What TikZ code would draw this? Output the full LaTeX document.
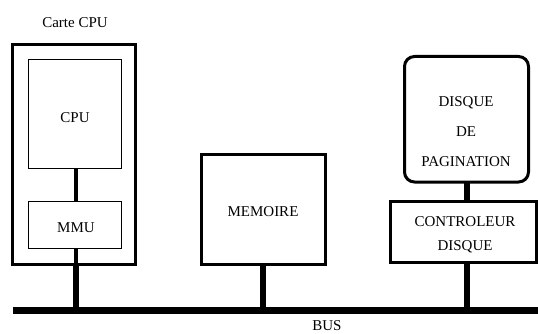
\documentclass[tikz,border=0pt]{standalone}
\usepackage{fontspec}
\setmainfont{Liberation Serif}
\begin{document}
\begin{tikzpicture}[x=1pt,y=-1pt,
  box/.style={draw=black, line width=3pt, inner sep=0pt, outer sep=0pt},
  thinbox/.style={draw=black, line width=1pt, inner sep=0pt, outer sep=0pt},
  txt/.style={inner sep=0pt, font=\fontsize{15}{18}\selectfont, align=center},
  link/.style={line width=6pt},
  thinlink/.style={line width=3.5pt},
  bus/.style={line width=7pt}]
\useasboundingbox (0,0) rectangle (538,334);
% CPU card
\node[box, minimum width=122.5pt, minimum height=220pt] (card) at (73.75,154.5) {};
\node[txt] (cardlbl) at (75,23) {Carte CPU};
\node[thinbox, minimum width=93pt, minimum height=108.5pt] (cpu) at (75,114.25) {};
\node[txt] (cputxt) at (75,118) {CPU};
\node[thinbox, minimum width=93pt, minimum height=47pt] (mmu) at (75,224.5) {};
\node[txt] (mmutxt) at (76,228) {MMU};
% memory
\node[box, minimum width=123.5pt, minimum height=110pt] (mem) at (263.25,209.5) {};
\node[txt] (memtxt) at (263,212) {MEMOIRE};
% disk
\node[box, rounded corners=10pt, minimum width=124pt, minimum height=125.5pt] (disk) at (466.5,119.25) {};
\node[txt] (disktxt) at (466,132) {DISQUE\\[12pt]DE\\[12pt]PAGINATION};
\node[box, minimum width=146.5pt, minimum height=61.5pt] (ctrl) at (463.25,231.75) {};
\node[txt] (ctrltxt) at (465,235) {CONTROLEUR\\[6pt]DISQUE};
% bus
\coordinate (busL) at (12.7,310.5);
\coordinate (busR) at (538,310.5);
\draw[bus] (busL) -- (busR);
\node[txt] (buslbl) at (327,326) {BUS};
% connectors
\draw[thinlink] ([xshift=1pt]cpu.south) -- ([xshift=1pt]mmu.north);
\coordinate (cardexit) at ([xshift=1pt]mmu.south |- card.south);
\draw[thinlink] ([xshift=1pt]mmu.south) -- (cardexit);
\draw[link] (cardexit) -- (cardexit |- busL);
\draw[link] ([xshift=-0.25pt]mem.south) -- ([xshift=-0.25pt]mem.south |- busL);
\draw[link] (disk.south) -- (disk.south |- ctrl.north);
\draw[link] (disk.south |- ctrl.south) -- (disk.south |- busL);
\end{tikzpicture}
\end{document}
